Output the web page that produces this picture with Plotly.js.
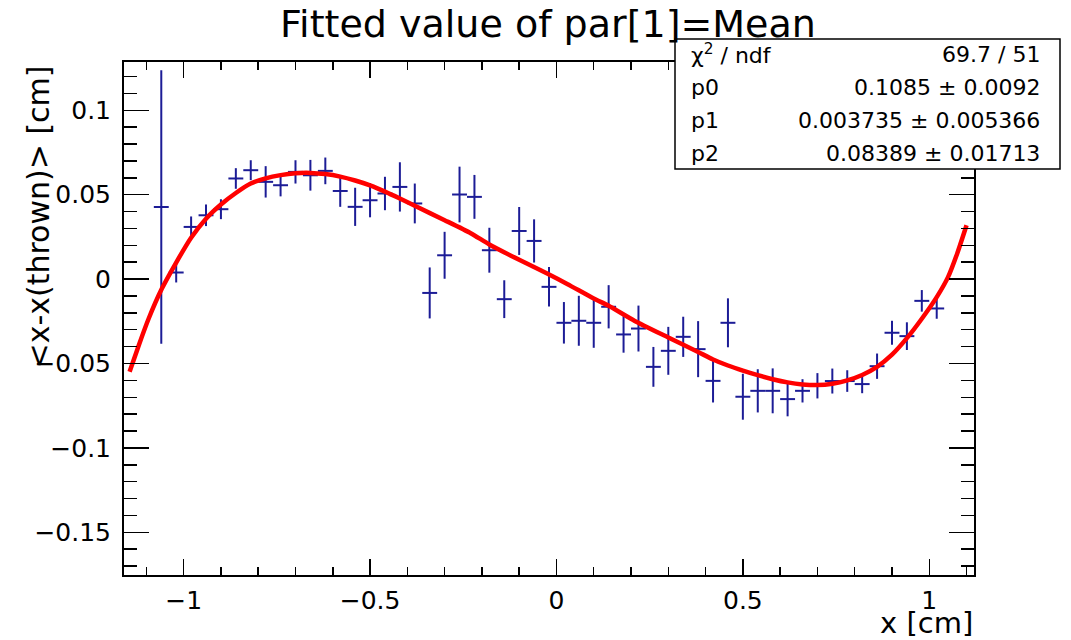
<!DOCTYPE html>
<html>
<head>
<meta charset="utf-8">
<script src="https://cdn.plot.ly/plotly-3.0.1.min.js"></script>
<style>html,body{margin:0;padding:0;background:#fff;}#chart{width:1071px;height:640px;}</style>
</head>
<body>
<div id="chart"></div>
<script>
// Bin centres (x) of the profile points
const binX = [-1.06,-1.02,-0.98,-0.94,-0.90,-0.86,-0.82,-0.78,-0.74,-0.70,-0.66,-0.62,-0.58,-0.54,-0.50,-0.46,-0.42,-0.38,-0.34,-0.30,-0.26,-0.22,-0.18,-0.14,-0.10,-0.06,-0.02,0.02,0.06,0.10,0.14,0.18,0.22,0.26,0.30,0.34,0.38,0.42,0.46,0.50,0.54,0.58,0.62,0.66,0.70,0.74,0.78,0.82,0.86,0.90,0.94,0.98,1.02];
// Mean residual per bin
const meanVal = [0.0427,0.0039,0.0309,0.0378,0.0414,0.0596,0.0645,0.0576,0.0556,0.0635,0.0615,0.0641,0.0522,0.0428,0.0467,0.0507,0.0546,0.0448,-0.0082,0.0141,0.0501,0.0487,0.0171,-0.0119,0.0285,0.0226,-0.0046,-0.0259,-0.0247,-0.0259,-0.0164,-0.0328,-0.0293,-0.0520,-0.0425,-0.0342,-0.0415,-0.0603,-0.0259,-0.0697,-0.0662,-0.0662,-0.0711,-0.0662,-0.0632,-0.0604,-0.0604,-0.0622,-0.0516,-0.0318,-0.0338,-0.0129,-0.0174];
// Error on the mean per bin
const meanErr = [0.081,0.0059,0.0062,0.0064,0.0059,0.0061,0.0059,0.0093,0.0066,0.0069,0.0091,0.0079,0.0094,0.0113,0.0101,0.0099,0.0146,0.0118,0.0151,0.0139,0.0165,0.0130,0.0133,0.0112,0.0142,0.0128,0.0117,0.0123,0.0148,0.0148,0.0128,0.0108,0.0136,0.0118,0.0142,0.0119,0.0166,0.0128,0.0145,0.0136,0.0128,0.0133,0.0102,0.0069,0.0075,0.0074,0.0064,0.0054,0.0075,0.0071,0.0082,0.0064,0.0061];
const halfBin = 0.02;
// Fitted curve
const fitX = [-1.145,-1.12,-1.094,-1.058,-1.02,-0.98,-0.94,-0.90,-0.86,-0.82,-0.78,-0.74,-0.70,-0.66,-0.62,-0.58,-0.54,-0.50,-0.46,-0.42,-0.38,-0.30,-0.23,-0.18,-0.10,-0.025,0.03,0.10,0.14,0.21,0.30,0.38,0.42,0.46,0.50,0.54,0.58,0.62,0.66,0.70,0.74,0.78,0.82,0.86,0.90,0.94,0.98,1.02,1.05,1.075,1.10];
const fitY = [-0.0549,-0.0390,-0.0235,-0.0055,0.0098,0.0245,0.0358,0.0442,0.0510,0.0566,0.0597,0.0616,0.0627,0.0629,0.0622,0.0607,0.0584,0.0555,0.0518,0.0477,0.0434,0.0349,0.0272,0.0205,0.0114,0.0033,-0.0030,-0.0115,-0.0158,-0.0248,-0.0346,-0.0432,-0.0476,-0.0512,-0.0542,-0.0569,-0.0593,-0.0612,-0.0624,-0.0628,-0.0620,-0.0600,-0.0568,-0.0520,-0.0448,-0.0350,-0.0235,-0.0107,0.0010,0.0152,0.0319];
// Stats box
const statLabels = ['χ<sup>2</sup> / ndf','p0','p1','p2'];
const statValues = ['69.7 / 51','0.1085 ± 0.0092','0.003735 ± 0.005366','0.08389 ± 0.01713'];

const FONT = 'DejaVu Sans, Liberation Sans, Arial, sans-serif';
const L = 124, R = 974, T = 62, B = 575;
const W = 1071, H = 640;
const px = v => (v - L) / (R - L);
const py = v => (B - v) / (B - T);

const blue = '#1c1c96';
const traces = [
  {
    type: 'scatter', mode: 'markers', x: binX, y: meanVal,
    marker: {size: 1, color: blue},
    error_y: {type: 'data', array: meanErr, symmetric: true, color: blue, thickness: 2, width: 0},
    error_x: {type: 'constant', value: halfBin, color: blue, thickness: 2, width: 0},
    hoverinfo: 'skip', showlegend: false
  },
  {
    type: 'scatter', mode: 'lines', x: fitX, y: fitY,
    line: {color: '#ff0000', width: 4.5, shape: 'spline', smoothing: 0.6},
    hoverinfo: 'skip', showlegend: false
  }
];

const annotations = [
  {text: 'Fitted value of par[1]=Mean', xref: 'paper', yref: 'paper', x: px(548), y: py(24),
   xanchor: 'center', yanchor: 'middle', showarrow: false, font: {family: FONT, size: 38, color: '#000'}},
  {text: '&lt;x-x(thrown)&gt; [cm]', xref: 'paper', yref: 'paper', x: px(38), y: py(64),
   xanchor: 'center', yanchor: 'top', textangle: -90, showarrow: false, font: {family: FONT, size: 30, color: '#000'}},
  {text: 'x [cm]', xref: 'paper', yref: 'paper', x: px(975), y: py(623),
   xanchor: 'right', yanchor: 'middle', showarrow: false, font: {family: FONT, size: 29, color: '#000'}}
];
const rowY = [54, 87, 120, 153];
statLabels.forEach((t, i) => {
  annotations.push({text: t, xref: 'paper', yref: 'paper', x: px(689), y: py(rowY[i]), xanchor: 'left', yanchor: 'middle',
    showarrow: false, font: {family: FONT, size: 22, color: '#000'}});
  annotations.push({text: statValues[i], xref: 'paper', yref: 'paper', x: px(1042), y: py(rowY[i]), xanchor: 'right', yanchor: 'middle',
    showarrow: false, font: {family: FONT, size: 22, color: '#000'}});
});

const layout = {
  width: W, height: H,
  margin: {l: L, r: W - R, t: T, b: H - B, pad: 0},
  paper_bgcolor: '#fff', plot_bgcolor: '#fff',
  showlegend: false,
  xaxis: {
    range: [-1.16, 1.12], dtick: 0.5, tick0: 0,
    ticks: 'inside', ticklen: 16, tickwidth: 1.5, tickcolor: '#000',
    minor: {dtick: 0.1, ticks: 'inside', ticklen: 8, tickwidth: 1.5, tickcolor: '#000', showgrid: false},
    showline: true, linecolor: '#000', linewidth: 2, mirror: 'allticks',
    showgrid: false, zeroline: false, ticklabelstandoff: 2,
    tickfont: {family: FONT, size: 25, color: '#000'}
  },
  yaxis: {
    range: [-0.1753, 0.1286], dtick: 0.05, tick0: 0,
    ticks: 'inside', ticklen: 25, tickwidth: 1.5, tickcolor: '#000',
    minor: {dtick: 0.01, ticks: 'inside', ticklen: 13, tickwidth: 1.5, tickcolor: '#000', showgrid: false},
    showline: true, linecolor: '#000', linewidth: 2, mirror: 'allticks',
    showgrid: false, zeroline: false, ticklabelstandoff: 6,
    tickfont: {family: FONT, size: 25, color: '#000'}
  },
  shapes: [
    {type: 'rect', xref: 'paper', yref: 'paper', x0: px(675), x1: px(1060), y0: py(169), y1: py(39),
     fillcolor: '#fff', line: {color: '#000', width: 1.5}, layer: 'above'}
  ],
  annotations: annotations
};

Plotly.newPlot('chart', traces, layout, {displayModeBar: false, staticPlot: true});
</script>
</body>
</html>
